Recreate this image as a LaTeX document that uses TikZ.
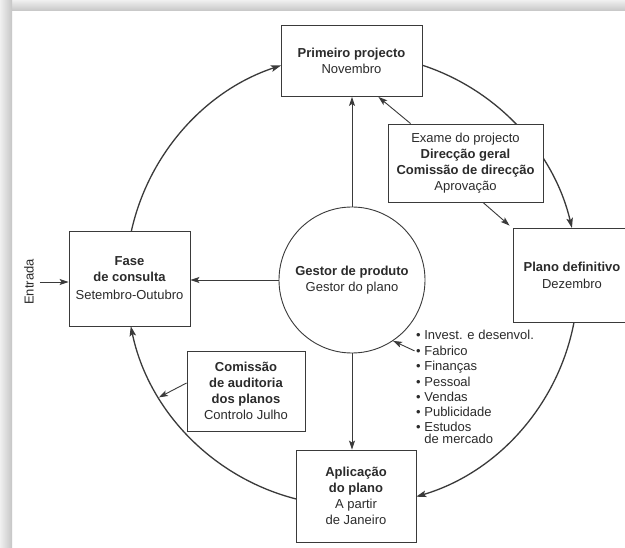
\documentclass[tikz,border=0pt]{standalone}
\usepackage{fontspec}
\setmainfont{Liberation Sans}
\usetikzlibrary{arrows.meta,calc}
\definecolor{ink}{HTML}{2B2B2B}
\definecolor{rule}{HTML}{3A3A3A}
\begin{document}
\begin{tikzpicture}[x=1pt,y=-1pt,
  every node/.style={text=ink},
  txt/.style={font=\fontsize{13}{16}\selectfont, align=center},
  box/.style={txt, draw=rule, line width=0.9pt, fill=white, inner sep=0pt},
  flow/.style={draw=rule, line width=0.9pt, -{Stealth[length=9pt,width=6pt,inset=2pt]}},
  loop/.style={draw=rule, line width=1.3pt, -{Stealth[length=10pt,width=6.5pt,inset=2pt]}},
  item/.style={font=\fontsize{13}{15}\selectfont, anchor=base west, inner sep=0pt},
]
\clip (0,0) rectangle (625,548);
\fill[white] (0,0) rectangle (625,548);
% page frame
\shade[top color=gray!12, bottom color=gray!45] (0,0) rectangle (625,11);
\shade[left color=gray!12, right color=gray!45] (0,0) rectangle (12,548);

% centre of the planning cycle
\coordinate (C) at (352,280);
\coordinate (aud) at ($(C)+(211.3:226pt)$);

% the yearly cycle (boxes are drawn on top of it)
\draw[loop] ($(C)+(167.5:226pt)$) arc[start angle=167.5, end angle=108.3, radius=226pt];
\draw[loop] ($(C)+(72.0:226pt)$) arc[start angle=72.0, end angle=13.3, radius=226pt];
\draw[loop] ($(C)+(-10.7:226pt)$) arc[start angle=-10.7, end angle=-73.5, radius=226pt];
\draw[loop] ($(C)+(-104.3:226pt)$) arc[start angle=-104.3, end angle=-168.2, radius=226pt];

% stages
\node[box, minimum width=141pt, minimum height=71pt] (prim) at (351.5,61)
  {\textbf{Primeiro projecto}\\Novembro};
\node[box, minimum width=155pt, minimum height=78pt] (exame) at (465.5,163)
  {Exame do projecto\\\textbf{Direcção geral}\\\textbf{Comissão de direcção}\\Aprovação};
\node[box, minimum width=118pt, minimum height=94pt] (plano) at (572,275)
  {\textbf{Plano definitivo}\\[1pt]Dezembro};
\node[box, minimum width=121pt, minimum height=95pt] (fase) at (129.5,278.5)
  {\textbf{Fase}\\\textbf{de consulta}\\[2pt]Setembro-Outubro};
\node[box, circle, minimum size=146pt] (g) at (352,280)
  {\textbf{Gestor de produto}\\Gestor do plano};
\node[box, minimum width=118pt, minimum height=80pt] (com) at (246,391)
  {\textbf{Comissão}\\\textbf{de auditoria}\\\textbf{dos planos}\\Controlo Julho};
\node[box, minimum width=120pt, minimum height=92pt] (apl) at (356,496)
  {\textbf{Aplicação}\\\textbf{do plano}\\A partir\\de Janeiro};
\node[txt, rotate=90, inner sep=0pt] (entrada) at (29,282) {Entrada};

% departments
\node[item] (l1) at (416,339.5) {• Invest. e desenvol.};
\node[item] (l2) at (416,355.5) {• Fabrico};
\node[item] (l3) at (416,370.5) {• Finanças};
\node[item] (l4) at (416,386.5) {• Pessoal};
\node[item] (l5) at (416,401.5) {• Vendas};
\node[item] (l6) at (416,416.5) {• Publicidade};
\node[item] (l7) at (416,431.5) {• Estudos};
\node[item] (l8) at (416,443.5) {\phantom{• }de mercado};

% flows
\draw[flow] (g.north) -- (g.north |- prim.south);
\draw[flow] (g.west) -- (g.west -| fase.east);
\draw[flow] (g.south) -- (g.south |- apl.north);
\draw[flow] ($(exame.north west)+(23,0)$) -- ($(prim.south east)+(-44,0)$);
\draw[flow] ($(exame.south)+(17.5,0)$) -- ($(plano.north west)+(-3,-2)$);
\draw[flow] ($(com.west)+(0,-8)$) -- (aud);
\draw[flow] ($(l2.west)+(-1.5,0)$) -- (g.-56);
\draw[flow] ($(entrada.south)+(6,0)$) -- (entrada.south -| fase.west);
\end{tikzpicture}
\end{document}
